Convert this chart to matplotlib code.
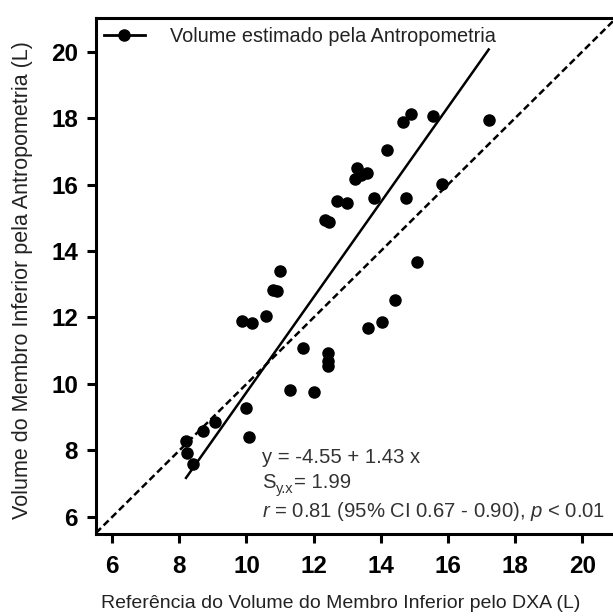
import matplotlib
matplotlib.use("Agg")
import matplotlib.pyplot as plt
from matplotlib.lines import Line2D
import numpy as np

# ---- data ----
dxa_volume = [8.20, 8.24, 8.42, 8.71, 9.06, 9.88, 10.17, 9.98, 10.07, 10.57,
              10.79, 10.91, 11.01, 11.29, 11.69, 12.01, 12.43, 12.43, 12.42, 12.33,
              12.46, 12.70, 12.98, 13.22, 13.30, 13.42, 13.58, 13.80, 13.62, 14.04,
              14.17, 14.42, 14.66, 14.89, 14.74, 15.08, 15.54, 15.81, 17.21]
anthro_volume = [8.30, 7.92, 7.60, 8.60, 8.86, 11.89, 11.82, 9.29, 8.40, 12.03,
                 12.84, 12.79, 13.40, 9.83, 11.07, 9.75, 10.93, 10.70, 10.55, 14.92,
                 14.88, 15.50, 15.44, 16.18, 16.50, 16.28, 16.34, 15.59, 11.68, 11.85,
                 17.05, 12.52, 17.87, 18.13, 15.59, 13.67, 18.06, 16.03, 17.93]
fit_intercept = -4.55
fit_slope = 1.43
x_ticks = [6, 8, 10, 12, 14, 16, 18, 20]
y_ticks = [6, 8, 10, 12, 14, 16, 18, 20]
legend_label = "Volume estimado pela Antropometria"
x_label = "Referência do Volume do Membro Inferior pelo DXA (L)"
y_label = "Volume do Membro Inferior pela Antropometria (L)"
eq_line = "y = -4.55 + 1.43 x"
syx_parts = ["S", "y.x", "= 1.99"]
r_line = "$r$ = 0.81 (95% CI 0.67 - 0.90), $p$ < 0.01"

plt.rcParams['font.family'] = ['Liberation Sans', 'DejaVu Sans']
plt.rcParams['mathtext.fontset'] = 'custom'
plt.rcParams['mathtext.rm'] = 'Liberation Sans'
plt.rcParams['mathtext.it'] = 'Liberation Sans:italic'
plt.rcParams['mathtext.bf'] = 'Liberation Sans:bold'

W, H = 613, 616
fig = plt.figure(figsize=(W / 100, H / 100), dpi=100)
ax = fig.add_axes([96 / W, 82.4 / H, 520 / W, 516 / H])

x = np.array(dxa_volume)
y = np.array(anthro_volume)

# identity line
ax.axline((0, 0), slope=1, color='black', lw=1.8, ls=(0, (2.8, 1.5)), zorder=1)
# regression line
xf = np.array([x.min(), x.max()])
ax.plot(xf, fit_intercept + fit_slope * xf, color='black', lw=1.8, zorder=2)
# points
ax.plot(x, y, 'o', color='black', markersize=8, zorder=3)

ax.set_xlim(5.52, 21.0)
ax.set_ylim(5.5, 21.02)
ax.set_xticks(x_ticks)
ax.set_yticks(y_ticks)
for s in ['left', 'bottom', 'top']:
    ax.spines[s].set_linewidth(2.2)
ax.spines['right'].set_visible(False)
ax.tick_params(direction='out', length=6.5, width=2.2, labelsize=17.5, color='black')
ax.tick_params(axis='x', pad=9)
ax.tick_params(axis='y', pad=6.5)
for lab in ax.get_xticklabels() + ax.get_yticklabels():
    lab.set_fontweight('bold')

fig.text(341 / W, (H - 603) / H, x_label, ha='center', va='center',
         fontsize=14, color='#222222')
fig.text(23 / W, (H - 280) / H, y_label, ha='center', va='center',
         rotation=90, fontsize=15.5, color='#222222')

handle = Line2D([], [], color='black', lw=2, marker='o', markersize=8)
leg = ax.legend([handle], [legend_label], frameon=False, loc='center left',
                bbox_to_anchor=(103.6 / W, (H - 36) / H), bbox_transform=fig.transFigure,
                borderpad=0, borderaxespad=0, handlelength=2.1, handletextpad=1.25,
                fontsize=14.3)
for t in leg.get_texts():
    t.set_color('#222222')

tx = 262 / W
txt_kw = dict(ha='left', va='baseline', color='#333333')
fig.text(tx, (H - 463) / H, eq_line, fontsize=14.6, **txt_kw)
fig.text(tx, (H - 517) / H, r_line, fontsize=14.6, **txt_kw)

# S_{y.x} = 1.99 built from pieces
canvas = fig.canvas
canvas.draw()
renderer = canvas.get_renderer()
s_base = (H - 488.5) / H
t_s = fig.text(tx, s_base, syx_parts[0], fontsize=14.6, **txt_kw)
ext = t_s.get_window_extent(renderer)
t_sub = fig.text(ext.x1 / W, s_base - 5 / H, syx_parts[1], fontsize=10.5, **txt_kw)
ext2 = t_sub.get_window_extent(renderer)
fig.text(ext2.x1 / W + 1 / W, s_base, syx_parts[2], fontsize=14.6, **txt_kw)

fig.savefig("out.png", dpi=100)
